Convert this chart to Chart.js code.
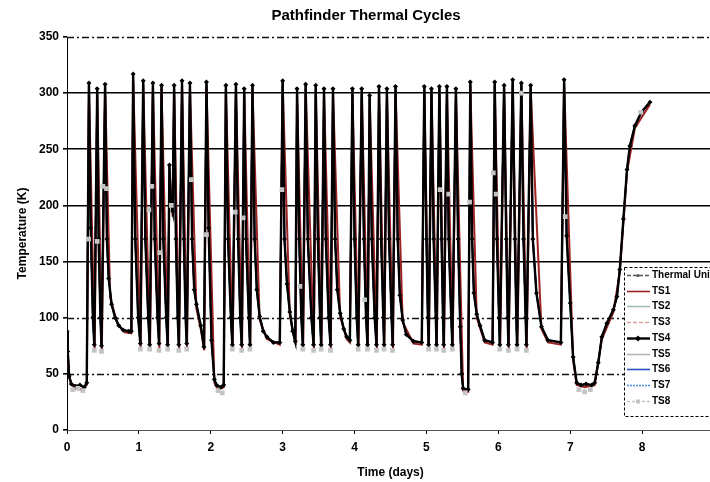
<!DOCTYPE html>
<html>
<head>
<meta charset="utf-8">
<title>Pathfinder Thermal Cycles</title>
<script src="https://cdn.jsdelivr.net/npm/chart.js@4.4.1/dist/chart.umd.min.js"></script>
<style>
  html, body { margin: 0; padding: 0; background: #fff; overflow: hidden; }
  #wrap { position: absolute; left: 0; top: 0; width: 730px; height: 482px; }
</style>
</head>
<body>
<div id="wrap"><canvas id="thermal"></canvas></div>
<script>
// [time (days), temperature (K)]
const ts4Trace = [
  [0.00, 88], [0.01, 70], [0.03, 48], [0.06, 41], [0.12, 39], [0.18, 40], [0.24, 38], [0.275, 42],
  [0.305, 309], [0.33, 180], [0.36, 100], [0.38, 76],
  [0.42, 304], [0.44, 170], [0.465, 100], [0.48, 75],
  [0.53, 308], [0.555, 170], [0.58, 135], [0.62, 112], [0.67, 100], [0.72, 93], [0.78, 89], [0.86, 88], [0.895, 88],
  [0.92, 317], [0.95, 170], [0.99, 100], [1.02, 77],
  [1.06, 311], [1.09, 170], [1.13, 100], [1.15, 76],
  [1.195, 309], [1.22, 170], [1.26, 100], [1.28, 77],
  [1.315, 307], [1.34, 170], [1.38, 100], [1.40, 76],
  [1.425, 236], [1.44, 205], [1.47, 195],
  [1.49, 307], [1.515, 170], [1.54, 100], [1.555, 76],
  [1.60, 311], [1.625, 170], [1.65, 100], [1.665, 77],
  [1.71, 309], [1.74, 170], [1.77, 125], [1.80, 112], [1.86, 93], [1.905, 74],
  [1.94, 310], [1.97, 180], [2.01, 80], [2.05, 45], [2.08, 40], [2.14, 38], [2.18, 40],
  [2.21, 307], [2.24, 170], [2.28, 100], [2.30, 76],
  [2.35, 308], [2.38, 170], [2.41, 100], [2.43, 76],
  [2.465, 304], [2.49, 170], [2.53, 100], [2.545, 76],
  [2.58, 307], [2.61, 170], [2.64, 125], [2.68, 101], [2.73, 88], [2.78, 83], [2.87, 78], [2.96, 78],
  [3.00, 311], [3.025, 170], [3.06, 130], [3.10, 105], [3.14, 88], [3.175, 79],
  [3.20, 304], [3.23, 170], [3.26, 100], [3.28, 76],
  [3.32, 308], [3.35, 170], [3.40, 100], [3.43, 76],
  [3.46, 307], [3.49, 170], [3.52, 100], [3.535, 76],
  [3.575, 304], [3.60, 170], [3.64, 100], [3.665, 76],
  [3.70, 304], [3.73, 170], [3.76, 125], [3.80, 104], [3.85, 90], [3.89, 83], [3.935, 80],
  [3.97, 304], [4.00, 170], [4.03, 100], [4.05, 76],
  [4.10, 304], [4.13, 170], [4.16, 100], [4.18, 76],
  [4.21, 298], [4.24, 170], [4.28, 100], [4.305, 76],
  [4.34, 306], [4.37, 170], [4.40, 100], [4.41, 76],
  [4.45, 304], [4.48, 170], [4.515, 100], [4.53, 76],
  [4.57, 306], [4.60, 170], [4.63, 120], [4.67, 98], [4.72, 85], [4.82, 79], [4.935, 78],
  [4.97, 306], [5.00, 170], [5.02, 100], [5.03, 76],
  [5.07, 304], [5.10, 170], [5.13, 100], [5.14, 76],
  [5.18, 306], [5.21, 170], [5.23, 100], [5.24, 76],
  [5.285, 306], [5.31, 170], [5.345, 100], [5.36, 76],
  [5.41, 304], [5.44, 170], [5.47, 92], [5.49, 50], [5.51, 37], [5.58, 36],
  [5.61, 310], [5.635, 170], [5.66, 122], [5.70, 103], [5.745, 93], [5.81, 80], [5.92, 78],
  [5.95, 310], [5.98, 170], [6.01, 100], [6.02, 76],
  [6.08, 307], [6.11, 170], [6.13, 100], [6.14, 76],
  [6.20, 312], [6.23, 170], [6.25, 100], [6.26, 76],
  [6.32, 309], [6.35, 170], [6.38, 100], [6.39, 76],
  [6.45, 307], [6.48, 170], [6.53, 122], [6.60, 92], [6.69, 80], [6.87, 78],
  [6.915, 312], [6.95, 173], [7.00, 113], [7.04, 65], [7.09, 42], [7.15, 40], [7.22, 41], [7.30, 40], [7.34, 42],
  [7.39, 60], [7.44, 83], [7.51, 95], [7.60, 107], [7.65, 119], [7.69, 143], [7.74, 188], [7.79, 232],
  [7.83, 253], [7.90, 271], [7.99, 283], [8.11, 292]
];

const ts1Trace = [
  [0.00, 86], [0.03, 46], [0.10, 37], [0.20, 36], [0.275, 40],
  [0.305, 306], [0.385, 72], [0.42, 301], [0.485, 71], [0.53, 305],
  [0.60, 118], [0.70, 95], [0.80, 87], [0.895, 86],
  [0.92, 313], [1.025, 73], [1.06, 308], [1.155, 72], [1.195, 306], [1.285, 73],
  [1.315, 304], [1.405, 72], [1.425, 232], [1.47, 190], [1.49, 304], [1.56, 72],
  [1.60, 308], [1.67, 73], [1.71, 306], [1.80, 108], [1.86, 90], [1.91, 71],
  [1.94, 307], [2.05, 42], [2.10, 36], [2.18, 38],
  [2.21, 304], [2.305, 72], [2.35, 305], [2.435, 72], [2.465, 301], [2.55, 72],
  [2.58, 304], [2.68, 98], [2.78, 81], [2.96, 76],
  [3.00, 308], [3.10, 102], [3.18, 76], [3.20, 301], [3.285, 72], [3.32, 305], [3.435, 72],
  [3.46, 304], [3.54, 72], [3.575, 301], [3.67, 72], [3.70, 301], [3.80, 101], [3.89, 81], [3.935, 78],
  [3.97, 301], [4.055, 72], [4.10, 301], [4.185, 72], [4.21, 295], [4.31, 72],
  [4.34, 303], [4.415, 72], [4.45, 301], [4.535, 72], [4.57, 303], [4.67, 96], [4.82, 77], [4.935, 76],
  [4.97, 303], [5.035, 72], [5.07, 301], [5.145, 72], [5.18, 303], [5.245, 72],
  [5.285, 303], [5.365, 72], [5.41, 301], [5.51, 35], [5.58, 34],
  [5.61, 307], [5.70, 100], [5.81, 78], [5.92, 76],
  [5.95, 307], [6.025, 72], [6.08, 304], [6.145, 72], [6.20, 309], [6.265, 72],
  [6.32, 306], [6.395, 72], [6.45, 304], [6.60, 90], [6.69, 78], [6.87, 76],
  [6.915, 309], [7.04, 62], [7.09, 40], [7.20, 38], [7.34, 40], [7.44, 81],
  [7.60, 105], [7.69, 141], [7.79, 230], [7.90, 269], [8.11, 290]
];

// TS8 was logged less often; only its samples are marked
const ts8Samples = [
  [0.08, 36], [0.15, 37], [0.22, 35], [0.30, 170], [0.38, 71], [0.42, 168], [0.48, 70], [0.50, 217], [0.55, 215],
  [1.02, 72], [1.14, 196], [1.15, 72], [1.18, 217], [1.28, 71], [1.29, 158], [1.40, 72], [1.45, 200],
  [1.555, 71], [1.665, 72], [1.73, 223], [1.94, 174], [2.10, 35], [2.16, 33],
  [2.30, 72], [2.34, 194], [2.43, 71], [2.45, 189], [2.545, 72], [2.99, 214],
  [3.24, 128], [3.28, 72], [3.43, 71], [3.535, 72], [3.665, 71],
  [4.05, 72], [4.14, 116], [4.18, 72], [4.305, 71], [4.41, 72], [4.53, 71],
  [5.03, 72], [5.14, 72], [5.19, 214], [5.24, 71], [5.31, 210], [5.36, 72], [5.54, 33], [5.60, 203],
  [5.93, 229], [5.97, 210], [6.02, 72], [6.14, 71], [6.26, 72], [6.32, 300], [6.39, 71],
  [6.93, 190], [7.12, 36], [7.20, 34], [7.28, 36], [7.98, 283]
];

const yTicks = [0, 50, 100, 150, 200, 250, 300, 350];
const dashedLevels = [50, 100, 350];

const pts = arr => arr.map(p => ({ x: p[0], y: p[1] }));

function sensor(label, trace, color, extra) {
  return Object.assign({
    label: label,
    data: pts(trace),
    borderColor: color,
    backgroundColor: color,
    borderWidth: 1.6,
    pointRadius: 0,
    tension: 0
  }, extra || {});
}

const datasets = [
  sensor('Thermal Unit', ts4Trace, '#555555', { borderDash: [4, 2], order: 8, legendMarker: 'circle' }),
  sensor('TS1', ts1Trace, '#9e2424', { borderWidth: 2, order: 2 }),
  sensor('TS2', ts4Trace, '#9fbdb4', { order: 7 }),
  sensor('TS3', ts4Trace, '#d9a0a0', { borderDash: [4, 2], order: 6 }),
  sensor('TS4', ts4Trace, '#000000', { borderWidth: 2.4, pointRadius: 0.8, pointStyle: 'rectRot', order: 1, legendMarker: 'rectRot' }),
  sensor('TS5', ts4Trace, '#b4b4b4', { order: 5 }),
  sensor('TS6', ts4Trace, '#2f4fc4', { order: 4 }),
  sensor('TS7', ts4Trace, '#4c8fe6', { borderDash: [2, 1], order: 3 }),
  sensor('TS8', ts8Samples, '#c4c4c4', { showLine: false, pointRadius: 2.2, pointStyle: 'rect', borderDash: [3, 2], order: 0, legendMarker: 'rect' })
];

const boldFont = { family: "'Liberation Sans', Arial, sans-serif", size: 12, weight: 'bold' };

// dashed reference levels drawn through the y scale
const gridDash = {
  id: 'gridDash',
  beforeDatasetsDraw(chart) {
    const { ctx, chartArea, scales: { y } } = chart;
    ctx.save();
    ctx.strokeStyle = '#111';
    ctx.lineWidth = 1.3;
    ctx.setLineDash([7, 3, 2, 3]);
    dashedLevels.forEach(v => {
      const py = Math.round(y.getPixelForValue(v)) + 0.5;
      ctx.beginPath();
      ctx.moveTo(chartArea.left, py);
      ctx.lineTo(chartArea.right, py);
      ctx.stroke();
    });
    ctx.restore();
  }
};

// chart heading
const heading = {
  id: 'heading',
  afterDraw(chart) {
    const ctx = chart.ctx;
    ctx.save();
    ctx.font = "bold 15px 'Liberation Sans', Arial, sans-serif";
    ctx.fillStyle = '#000';
    ctx.textAlign = 'center';
    ctx.textBaseline = 'middle';
    ctx.fillText('Pathfinder Thermal Cycles', 366, 16);
    ctx.restore();
  }
};

// boxed legend sitting inside the plot, lower right
const boxLegend = {
  id: 'boxLegend',
  afterDraw(chart) {
    const ctx = chart.ctx;
    const left = 624, top = 267, w = 100, h = 149, row = 15.7;
    ctx.save();
    ctx.fillStyle = '#fff';
    ctx.fillRect(left, top, w, h);
    ctx.strokeStyle = '#000';
    ctx.lineWidth = 1;
    ctx.setLineDash([3, 2]);
    ctx.strokeRect(left + 0.5, top + 0.5, w, h);
    ctx.font = "bold 10px 'Liberation Sans', Arial, sans-serif";
    ctx.textBaseline = 'middle';
    chart.data.datasets.forEach((ds, i) => {
      const yy = Math.round(top + 8 + i * row) + 0.5;
      ctx.strokeStyle = ds.borderColor;
      ctx.lineWidth = ds.label === 'TS4' ? 2.4 : 1.6;
      ctx.setLineDash(ds.borderDash || []);
      ctx.beginPath();
      ctx.moveTo(left + 3, yy);
      ctx.lineTo(left + 26, yy);
      ctx.stroke();
      ctx.setLineDash([]);
      if (ds.legendMarker) {
        ctx.fillStyle = ds.borderColor;
        const mx = left + 14;
        if (ds.legendMarker === 'rect') {
          ctx.fillRect(mx - 2, yy - 2, 4, 4);
        } else if (ds.legendMarker === 'rectRot') {
          ctx.beginPath();
          ctx.moveTo(mx, yy - 3); ctx.lineTo(mx + 3, yy); ctx.lineTo(mx, yy + 3); ctx.lineTo(mx - 3, yy);
          ctx.closePath(); ctx.fill();
        } else {
          ctx.beginPath(); ctx.arc(mx, yy, 1.6, 0, Math.PI * 2); ctx.fill();
        }
      }
      ctx.fillStyle = '#000';
      ctx.fillText(ds.label, left + 28, yy);
    });
    ctx.restore();
  }
};

new Chart(document.getElementById('thermal').getContext('2d'), {
  type: 'line',
  data: { datasets: datasets },
  options: {
    responsive: true,
    maintainAspectRatio: false,
    devicePixelRatio: 1,
    animation: false,
    parsing: false,
    layout: { padding: { top: 37, right: 16, bottom: 0, left: 0 } },
    plugins: {
      legend: { display: false },
      title: { display: false },
      tooltip: { enabled: false }
    },
    scales: {
      x: {
        type: 'linear',
        min: 0,
        max: 9,
        afterFit: s => { s.height = 52; },
        ticks: { stepSize: 1, color: '#000', font: boldFont, padding: 6, maxRotation: 0 },
        grid: { drawOnChartArea: false, tickLength: 4, color: '#000' },
        border: { color: '#555', width: 1 },
        title: { display: true, text: 'Time (days)', color: '#000', font: boldFont, padding: { top: 0, bottom: 2 } }
      },
      y: {
        min: 0,
        max: 350,
        afterFit: s => { s.width = 67; },
        afterBuildTicks: s => { s.ticks = yTicks.map(v => ({ value: v })); },
        ticks: { color: '#000', font: boldFont, padding: 4 },
        grid: {
          tickLength: 4,
          tickColor: '#000',
          lineWidth: 1.6,
          color: c => (c.tick && (c.tick.value === 0 || dashedLevels.includes(c.tick.value))) ? 'rgba(0,0,0,0)' : '#000'
        },
        border: { color: '#000', width: 1 },
        title: { display: true, text: 'Temperature (K)', color: '#000', font: boldFont, padding: { top: 15, bottom: 0 } }
      }
    }
  },
  plugins: [gridDash, heading, boxLegend]
});
</script>
</body>
</html>
